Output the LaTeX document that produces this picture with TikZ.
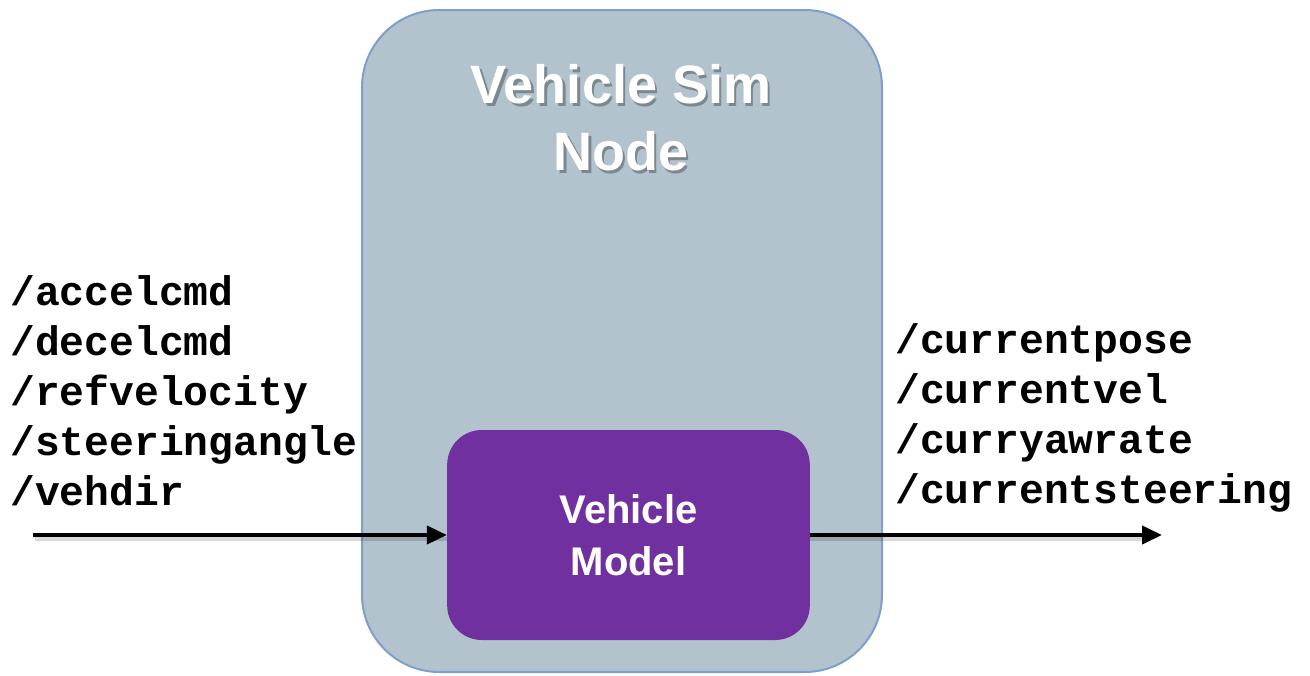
\documentclass[tikz,border=0pt]{standalone}
\usepackage{fontspec}
\setmainfont{Liberation Sans}
\newfontfamily\codefont{Liberation Mono}
\usetikzlibrary{arrows.meta}
\definecolor{simfill}{HTML}{B3C3CE}
\definecolor{simborder}{HTML}{7E9ECC}
\definecolor{modelfill}{HTML}{7030A0}
\tikzset{
  simbox/.style={draw=simborder, line width=1.5pt, fill=simfill, rounded corners=58pt, inner sep=0pt},
  modelbox/.style={fill=modelfill, rounded corners=26pt, inner sep=0pt, text=white,
    font=\bfseries\fontsize{30}{39}\selectfont, align=center},
  titletext/.style={text=white, font=\bfseries\fontsize{40.5}{50}\selectfont, align=center},
  titleshadow/.style={text=black, opacity=0.3, font=\bfseries\fontsize{40.5}{50}\selectfont, align=center},
  topic/.style={anchor=base west, inner sep=0pt, font=\codefont\bfseries\fontsize{31}{37.5}\selectfont},
  arr/.style={line width=3pt, -{Triangle[length=15pt, width=13.5pt]}},
  arrshadow/.style={line width=3pt, draw=black, opacity=0.15}
}
\begin{document}
\begin{tikzpicture}[x=0.75pt, y=-0.75pt]
\useasboundingbox (0,0) rectangle (1310,675);
\node[simbox, minimum width=390pt, minimum height=496.5pt] (sim) at (622,341) {};
\node[titleshadow] (titleshadow) at (623.5,120.5) {Vehicle Sim\\Node};
\node[titletext] (title) at (621,118) {Vehicle Sim\\Node};
\node[modelbox, minimum width=272pt, minimum height=157.5pt] (model) at (628.5,535) {Vehicle\\Model};
\node[topic] (in1) at (10,305) {/accelcmd};
\node[topic] (in2) at (10,355) {/decelcmd};
\node[topic] (in3) at (10,405) {/refvelocity};
\node[topic] (in4) at (10,455) {/steeringangle};
\node[topic] (in5) at (10,505) {/vehdir};
\node[topic] (out1) at (895,353) {/currentpose};
\node[topic] (out2) at (895,403) {/currentvel};
\node[topic] (out3) at (895,453) {/curryawrate};
\node[topic] (out4) at (895,503) {/currentsteering};
\coordinate (src) at (33,535);
\coordinate (dst) at (1162,535);
\coordinate (srcs) at (35,539);
\coordinate (dsts) at (1150,539);
\draw[arrshadow] (srcs) -- ([shift={(0pt,-3pt)}]model.west);
\draw[arrshadow] ([shift={(0pt,-3pt)}]model.east) -- (dsts);
\draw[arr] (src) -- (model.west);
\draw[arr] (model.east) -- (dst);
\end{tikzpicture}
\end{document}
